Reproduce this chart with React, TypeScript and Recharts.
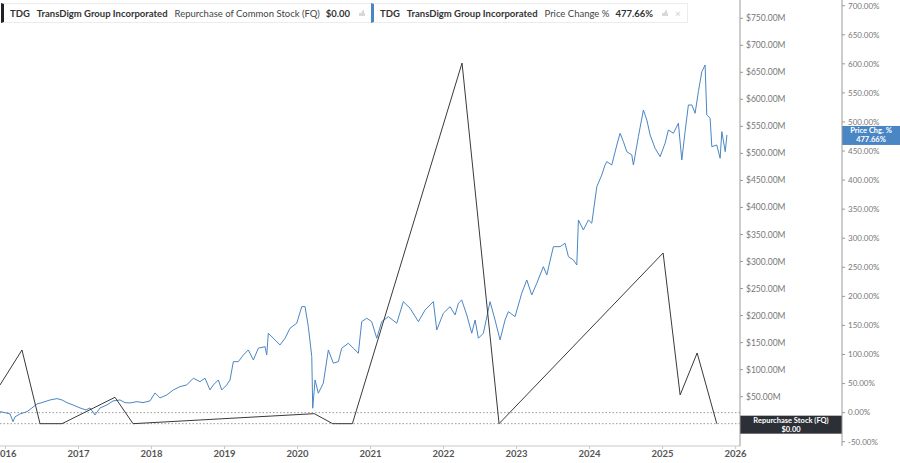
import React from 'react';
import { ComposedChart, Line, XAxis, YAxis, ReferenceLine } from 'recharts';

// ---- data ----
const priceDates = [2015.925, 2015.993, 2016.062, 2016.103, 2016.130, 2016.199, 2016.295, 2016.363, 2016.432, 2016.500, 2016.610, 2016.705, 2016.774, 2016.842, 2016.925, 2017.021, 2017.103, 2017.158, 2017.226, 2017.295, 2017.390, 2017.473, 2017.568, 2017.637, 2017.705, 2017.801, 2017.884, 2017.979, 2018.048, 2018.116, 2018.208, 2018.299, 2018.390, 2018.482, 2018.573, 2018.664, 2018.733, 2018.801, 2018.847, 2018.915, 2018.962, 2019.030, 2019.075, 2019.121, 2019.189, 2019.258, 2019.326, 2019.395, 2019.463, 2019.555, 2019.578, 2019.600, 2019.692, 2019.760, 2019.829, 2019.897, 2019.989, 2020.058, 2020.103, 2020.148, 2020.195, 2020.208, 2020.240, 2020.285, 2020.353, 2020.422, 2020.490, 2020.559, 2020.605, 2020.696, 2020.764, 2020.833, 2020.879, 2020.948, 2021.016, 2021.085, 2021.153, 2021.244, 2021.359, 2021.449, 2021.541, 2021.655, 2021.747, 2021.860, 2021.907, 2021.997, 2022.089, 2022.158, 2022.203, 2022.249, 2022.318, 2022.386, 2022.432, 2022.477, 2022.545, 2022.637, 2022.705, 2022.774, 2022.842, 2022.888, 2022.979, 2023.071, 2023.140, 2023.208, 2023.277, 2023.367, 2023.414, 2023.504, 2023.596, 2023.664, 2023.710, 2023.778, 2023.825, 2023.847, 2023.915, 2023.984, 2024.030, 2024.099, 2024.167, 2024.212, 2024.236, 2024.304, 2024.373, 2024.418, 2024.463, 2024.510, 2024.578, 2024.600, 2024.668, 2024.737, 2024.784, 2024.829, 2024.897, 2024.966, 2025.034, 2025.079, 2025.148, 2025.216, 2025.263, 2025.308, 2025.353, 2025.400, 2025.445, 2025.490, 2025.537, 2025.582, 2025.605, 2025.651, 2025.674, 2025.742, 2025.788, 2025.811, 2025.858, 2025.881];

const priceChange = [1.7, 0, -2.2, -15.5, -7.4, -2.2, 1.7, 8.1, 15.0, 17.2, 21.8, 24.1, 21.8, 17.2, 13.2, 8.1, 4.6, 8.1, -4.0, 8.1, 13.2, 20.1, 21.8, 17.2, 16.7, 18.9, 17.2, 20.1, 33.9, 25.3, 30.4, 39.0, 44.7, 47.6, 59.2, 53.3, 59.2, 39.0, 47.6, 56.2, 39.0, 47.6, 56.2, 87.7, 87.7, 99.2, 107.8, 90.6, 110.8, 113.5, 99.2, 136.6, 125.0, 116.4, 128.0, 145.2, 153.8, 182.3, 182.3, 147.9, 96.3, 7.6, 56.2, 33.4, 50.6, 107.8, 85.0, 87.7, 110.8, 119.4, 110.8, 102.2, 156.5, 162.4, 156.5, 128.0, 156.5, 165.1, 153.8, 190.9, 179.6, 156.5, 176.6, 190.9, 142.2, 171.0, 182.3, 168.0, 188.2, 193.8, 168.0, 136.6, 159.4, 128.0, 136.6, 190.9, 159.4, 125.0, 159.4, 173.7, 165.1, 205.4, 228.2, 202.4, 222.6, 251.1, 236.8, 285.5, 285.5, 291.4, 268.3, 262.6, 254.0, 331.4, 314.2, 331.4, 325.8, 388.7, 408.8, 426.0, 431.7, 426.0, 460.4, 480.6, 466.1, 448.9, 443.2, 426.0, 474.7, 520.6, 503.4, 477.6, 454.8, 440.3, 463.4, 486.2, 480.6, 497.8, 434.6, 483.3, 529.2, 529.2, 515.0, 552.1, 586.5, 598.0, 512.0, 506.4, 457.5, 460.4, 437.6, 483.3, 448.9, 477.66];

const repoDates = [2015.925, 2016.226, 2016.473, 2016.774, 2017.500, 2017.747, 2020.230, 2020.482, 2020.751, 2022.253, 2022.760, 2025.007, 2025.240, 2025.473, 2025.742];
const repoValues = [71.6, 136.3, 0, 0, 48.8, 0, 18.5, 0, 0, 667.2, 0, 315.8, 53.1, 130.8, 0];

const yearTicks = [2016, 2017, 2018, 2019, 2020, 2021, 2022, 2023, 2024, 2025, 2026];
const usdTicks = [50, 100, 150, 200, 250, 300, 350, 400, 450, 500, 550, 600, 650, 700, 750];
const pctTicks = [-50, 0, 50, 100, 150, 200, 250, 300, 350, 400, 450, 500, 550, 600, 650, 700];

const lastPrice = 477.66;
const lastRepo = 0;

const priceData = priceDates.slice(0, Math.min(priceDates.length, priceChange.length)).map((d, i) => ({ date: d, pct: priceChange[i] }));
const repoData = repoDates.map((d, i) => ({ date: d, usd: repoValues[i] }));

// ---- layout ----
const W = 900;
const H = 463;
const USD_W = 102;
const PCT_W = 58;
const FONT = 'Lato, "Open Sans", sans-serif';
const BLUE = '#4a86c4';
const DARK = '#2c2f36';
const USD_ID = 'a_usd';
const PCT_ID = 'b_pct';

const PriceLabel = (props: any) => {
  const vb = props.viewBox || {};
  const left = vb.x + vb.width + USD_W;
  const y = vb.y;
  return (
    <g>
      <rect x={left} y={y - 9} width={PCT_W} height={19} fill={BLUE} />
      <text x={left + PCT_W / 2} y={y - 1.5} fill="#fff" fontSize={7.5} fontWeight={700} textAnchor="middle" fontFamily={FONT}>Price Chg. %</text>
      <text x={left + PCT_W / 2} y={y + 7} fill="#fff" fontSize={7.5} fontWeight={700} textAnchor="middle" fontFamily={FONT}>{lastPrice.toFixed(2)}%</text>
    </g>
  );
};

const RepoLabel = (props: any) => {
  const vb = props.viewBox || {};
  const left = vb.x + vb.width;
  const y = vb.y;
  return (
    <g>
      <rect x={left} y={y - 8} width={USD_W} height={18} fill={DARK} />
      <text x={left + USD_W / 2} y={y - 0.5} fill="#fff" fontSize={7.5} fontWeight={700} textAnchor="middle" fontFamily={FONT}>Repurchase Stock (FQ)</text>
      <text x={left + USD_W / 2} y={y + 8} fill="#fff" fontSize={7.5} fontWeight={700} textAnchor="middle" fontFamily={FONT}>${lastRepo.toFixed(2)}</text>
    </g>
  );
};

const Icons = () => (
  <span style={{ display: 'inline-flex', alignItems: 'center', marginLeft: 8, gap: 6 }}>
    <svg width="8" height="8" viewBox="0 0 8 8"><path d="M1 7 L1 4 L3 4 L5 1 L6 1 L6 4 L7 4 L7 7 Z" fill="#d8d8d8" /></svg>
    <span style={{ color: '#cfcfcf', fontSize: 10 }}>×</span>
  </span>
);

const legendBox: React.CSSProperties = {
  position: 'absolute',
  top: 3,
  height: 20,
  display: 'flex',
  alignItems: 'center',
  background: '#fff',
  border: '1px solid #ececec',
  boxSizing: 'border-box',
  fontFamily: FONT,
  fontSize: 9.5,
  color: '#333',
  paddingLeft: 6,
  paddingRight: 6,
  whiteSpace: 'nowrap',
};

export default function App() {
  return (
    <div style={{ position: 'absolute', left: 0, top: 0, width: W, height: H, overflow: 'hidden', background: '#fff' }}>
      <ComposedChart width={W} height={H} margin={{ top: 0, right: 0, bottom: 0, left: 0 }}>
        <XAxis
          dataKey="date"
          type="number"
          domain={[2015.925, 2026.06]}
          ticks={yearTicks}
          interval={0}
          allowDataOverflow
          height={17}
          tickSize={3}
          tickMargin={1}
          axisLine={{ stroke: '#c8c8c8' }}
          tickLine={{ stroke: '#c8c8c8' }}
          tick={{ fill: '#555', fontSize: 9.5, fontWeight: 700, fontFamily: FONT }}
          tickFormatter={(v: number) => String(Math.round(v))}
        />
        <YAxis
          yAxisId={USD_ID}
          orientation="right"
          type="number"
          domain={[-41.3, 783.8]}
          ticks={usdTicks}
          interval={0}
          allowDataOverflow
          width={USD_W}
          tickSize={3}
          tickMargin={3}
          axisLine={{ stroke: '#9a9a9a' }}
          tickLine={{ stroke: '#9a9a9a' }}
          tick={{ fill: '#777', fontSize: 8.5, fontFamily: FONT, textAnchor: 'start' }}
          tickFormatter={(v: number) => `$${v.toFixed(2)}M`}
        />
        <YAxis
          yAxisId={PCT_ID}
          orientation="right"
          type="number"
          domain={[-57.4, 709.8]}
          ticks={pctTicks}
          interval={0}
          allowDataOverflow
          width={PCT_W}
          tickSize={3}
          tickMargin={3}
          axisLine={{ stroke: '#9a9a9a' }}
          tickLine={{ stroke: '#9a9a9a' }}
          tick={{ fill: '#777', fontSize: 8, fontFamily: FONT, textAnchor: 'start' }}
          tickFormatter={(v: number) => `${v.toFixed(2)}%`}
        />
        <ReferenceLine yAxisId={PCT_ID} y={0} stroke="#9a9a9a" strokeDasharray="1.5 2" />
        <ReferenceLine yAxisId={USD_ID} y={lastRepo} stroke="#9a9a9a" strokeDasharray="1.5 2" label={(p: any) => <RepoLabel {...p} />} />
        <Line
          yAxisId={PCT_ID}
          data={priceData}
          dataKey="pct"
          type="linear"
          stroke={BLUE}
          strokeWidth={1}
          dot={false}
          activeDot={false}
          isAnimationActive={false}
        />
        <Line
          yAxisId={USD_ID}
          data={repoData}
          dataKey="usd"
          type="linear"
          stroke="#3a3a3a"
          strokeWidth={1}
          dot={false}
          activeDot={false}
          isAnimationActive={false}
        />
        <ReferenceLine yAxisId={PCT_ID} y={lastPrice} stroke="none" label={(p: any) => <PriceLabel {...p} />} />
      </ComposedChart>

      <div style={{ ...legendBox, left: 1, borderLeft: '3px solid #222' }}>
        <b>TDG</b>
        <b style={{ marginLeft: 7 }}>TransDigm Group Incorporated</b>
        <span style={{ marginLeft: 7, color: '#444' }}>Repurchase of Common Stock (FQ)</span>
        <b style={{ marginLeft: 6 }}>$0.00</b>
        <Icons />
      </div>
      <div style={{ ...legendBox, left: 371, borderLeft: `3px solid ${BLUE}` }}>
        <b>TDG</b>
        <b style={{ marginLeft: 7 }}>TransDigm Group Incorporated</b>
        <span style={{ marginLeft: 7, color: '#444' }}>Price Change %</span>
        <b style={{ marginLeft: 6 }}>477.66%</b>
        <Icons />
      </div>
    </div>
  );
}
